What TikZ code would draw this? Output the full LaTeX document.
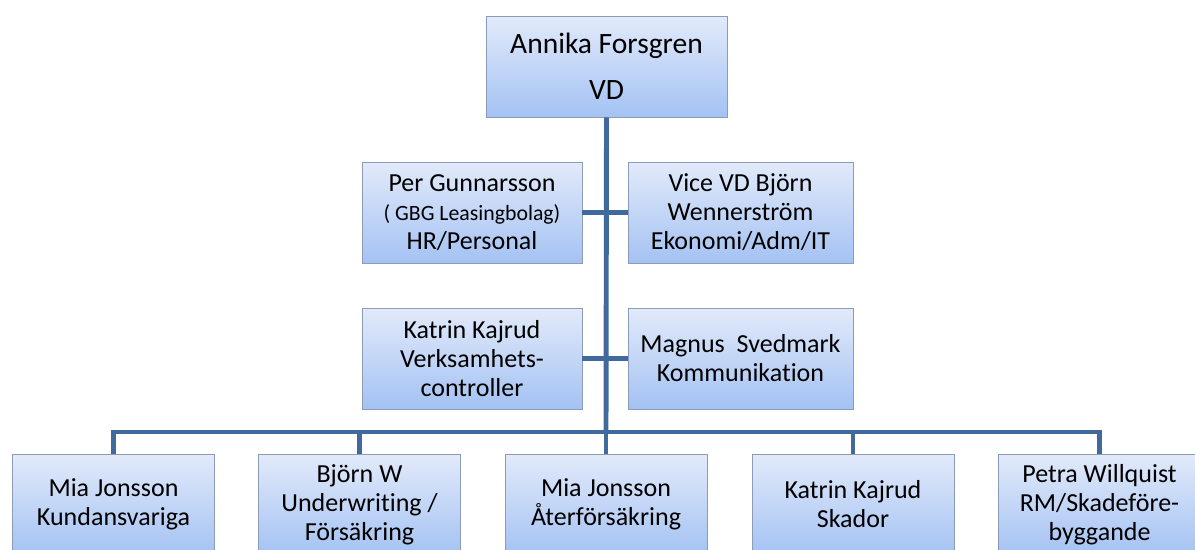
\documentclass[tikz,border=0pt]{standalone}
\usepackage{fontspec}
\setmainfont{Carlito}[Ligatures=NoCommon]
\usepackage{xcolor}
\usetikzlibrary{shadows}
\definecolor{linkblue}{RGB}{64,105,156}
\definecolor{boxtop}{RGB}{226,234,250}
\definecolor{boxbottom}{RGB}{164,194,243}
\definecolor{boxline}{RGB}{140,156,184}

\begin{document}
\begin{tikzpicture}[
    orgbox/.style={draw=boxline, line width=0.7pt, top color=boxtop, bottom color=boxbottom,
      minimum height=2.525cm, align=center, inner sep=2pt,
      general shadow={fill=black!65, shadow xshift=0.5pt, shadow yshift=-0.8pt},
      font=\fontsize{18.5}{20.6}\selectfont},
    link/.style={draw=linkblue, line width=3.5pt}]
    \useasboundingbox (0,0) rectangle (29.875,13.725);
    \clip (0,0) rectangle (29.875,13.725);

    \coordinate (bus) at (15.15,2.925);

    \node[orgbox, minimum width=6.025cm, font=\fontsize{21}{33}\selectfont] (vd) at (15.1625,12.0625) {Annika Forsgren\\VD};

    \node[orgbox, minimum width=5.5cm] (hr) at (11.8,8.4125) {Per Gunnarsson\\{\fontsize{15.5}{20.6}\selectfont ( GBG Leasingbolag)}\\HR/Personal};
    \node[orgbox, minimum width=5.625cm] (vvd) at (18.5125,8.4125) {Vice VD Björn\\Wennerström\\Ekonomi/Adm/IT};

    \node[orgbox, minimum width=5.5cm] (ctrl) at (11.8,4.7625) {Katrin Kajrud\\Verksamhets-\\controller};
    \node[orgbox, minimum width=5.625cm] (kom) at (18.5125,4.7625) {Magnus\ \ Svedmark\\Kommunikation};

    \node[orgbox, minimum width=5.05cm] (kund) at (2.8375,1.1125) {Mia Jonsson\\Kundansvariga};
    \node[orgbox, minimum width=5.05cm] (uw) at (8.9875,1.1125) {Björn W\\Underwriting /\\Försäkring};
    \node[orgbox, minimum width=5.05cm] (ater) at (15.15,1.1125) {Mia Jonsson\\Återförsäkring};
    \node[orgbox, minimum width=5.05cm] (skad) at (21.325,1.1125) {Katrin Kajrud\\Skador};
    \node[orgbox, minimum width=5.05cm] (rm) at (27.4875,1.1125) {Petra Willquist\\RM/Skadeföre-\\byggande};

    % connectors
    \draw[link] (vd.south) -- (bus);
    \draw[link] (hr.east) -- (vvd.west);
    \draw[link] (ctrl.east) -- (kom.west);
    \draw[link] (kund.north) |- (bus) -| (rm.north);
    \foreach \X in {uw,ater,skad}
      \draw[link] (\X.north) -- (\X.north |- bus);
\end{tikzpicture}
\end{document}
